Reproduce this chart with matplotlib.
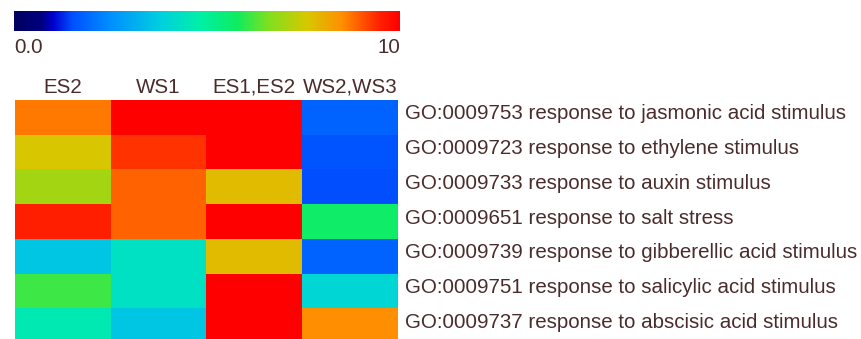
import matplotlib

matplotlib.use("Agg")

import matplotlib.pyplot as plt
from matplotlib.colors import LinearSegmentedColormap
import numpy as np

plt.rcParams["font.family"] = ["Liberation Sans", "DejaVu Sans"]

conditions = ["ES2", "WS1", "ES1,ES2", "WS2,WS3"]
go_terms = [
    "GO:0009753 response to jasmonic acid stimulus",
    "GO:0009723 response to ethylene stimulus",
    "GO:0009733 response to auxin stimulus",
    "GO:0009651 response to salt stress",
    "GO:0009739 response to gibberellic acid stimulus",
    "GO:0009751 response to salicylic acid stimulus",
    "GO:0009737 response to abscisic acid stimulus",
]

es2 = [8.7, 7.6, 7.0, 9.5, 3.6, 6.1, 4.6]
ws1 = [10.0, 9.3, 8.9, 8.9, 4.3, 4.3, 3.6]
es1_es2 = [10.0, 10.0, 7.8, 10.0, 7.8, 10.0, 10.0]
ws2_ws3 = [1.8, 1.6, 1.5, 5.7, 1.8, 4.0, 8.5]

vmin, vmax = 0.0, 10.0

cmap = LinearSegmentedColormap.from_list(
    "enrich",
    [
        (0.00, "#000060"),
        (0.07, "#000080"),
        (0.10, "#0000d0"),
        (0.15, "#0050ff"),
        (0.25, "#0090ff"),
        (0.38, "#00d0e0"),
        (0.48, "#00f0a8"),
        (0.58, "#10ec60"),
        (0.66, "#80e020"),
        (0.76, "#d8c800"),
        (0.85, "#ff9000"),
        (0.95, "#ff2000"),
        (1.00, "#ff0000"),
    ],
)

text_color = "#4a2c2c"
fs = 14.8
W, H = 862, 339
fig = plt.figure(figsize=(W / 100, H / 100), dpi=100)

# heat map, last row runs off the bottom edge
data = np.column_stack([es2, ws1, es1_es2, ws2_ws3])
ax = fig.add_axes([15 / W, -4 / H, 383 / W, 243 / H])
ax.imshow(data, cmap=cmap, vmin=vmin, vmax=vmax, aspect="auto",
          interpolation="nearest")
ax.set_axis_off()
for j, name in enumerate(conditions):
    ax.text(j, -0.6, name, ha="center", va="bottom", fontsize=fs,
            color=text_color)
for i, term in enumerate(go_terms):
    ax.text(3.57, i - 0.1, term, ha="left", va="center", fontsize=fs,
            color=text_color)

# colour scale bar
cax = fig.add_axes([14 / W, 1 - 31 / H, 386 / W, 20 / H])
grad = np.linspace(vmin, vmax, 512)[None, :]
cax.imshow(grad, cmap=cmap, vmin=vmin, vmax=vmax, aspect="auto",
           extent=[vmin, vmax, 0, 1])
cax.set_axis_off()
cax.text(vmin, -0.35, "0.0", ha="left", va="top", fontsize=fs,
         color=text_color)
cax.text(vmax, -0.35, "10", ha="right", va="top", fontsize=fs,
         color=text_color)

fig.savefig("out.png", dpi=100)
